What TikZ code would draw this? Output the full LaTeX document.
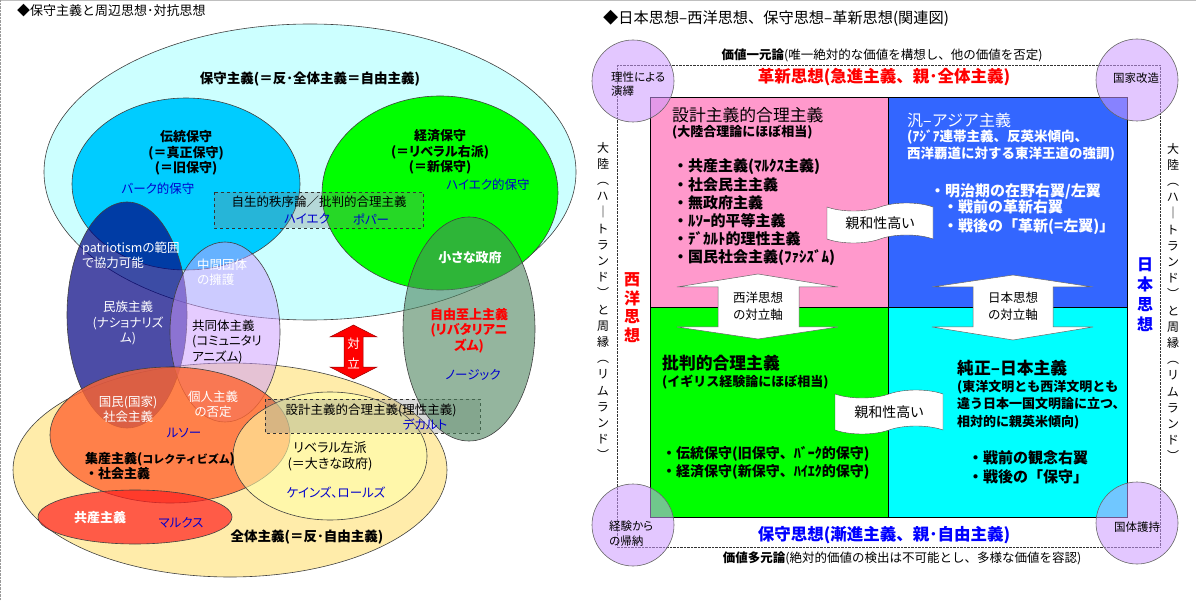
\documentclass[tikz,border=0pt]{standalone}
\usepackage{fontspec}
\setmainfont{Noto Sans CJK JP}[RawFeature=+palt]
\newfontfamily\fixe{Noto Sans CJK JP}
\usetikzlibrary{shapes.symbols}

\definecolor{cyanpale}{RGB}{204,255,255}
\definecolor{bleuciel}{RGB}{0,204,255}
\definecolor{vertvif}{RGB}{0,255,0}
\definecolor{jaunepale}{RGB}{255,236,170}
\definecolor{marine}{RGB}{0,0,128}
\definecolor{lavande}{RGB}{204,153,255}
\definecolor{orangevif}{RGB}{255,102,51}
\definecolor{rougevif}{RGB}{255,30,30}
\definecolor{jaunelib}{RGB}{255,255,170}
\definecolor{vertgris}{RGB}{77,132,94}
\definecolor{rose}{RGB}{255,153,204}
\definecolor{bleuroi}{RGB}{51,102,255}
\definecolor{cyanvif}{RGB}{0,255,255}
\definecolor{bleutexte}{RGB}{0,0,204}

\newcommand{\taille}[2]{\fontsize{#1}{#2}\selectfont}

\begin{document}
\begin{tikzpicture}[x=1pt, y=-1pt,
    contour/.style={draw=black!75, line width=0.6pt},
    etiq/.style={inner sep=0pt, align=center, font=\taille{12.5}{15.5}},
    etiqg/.style={inner sep=0pt, align=center, font=\taille{13}{15.5}\bfseries},
    nom/.style={etiq, text=bleutexte},
    encadre/.style={draw=black!80, dashed, fill=gray, fill opacity=0.3, line width=0.5pt},
    quadrant/.style={draw=black, line width=0.8pt},
    rond/.style={draw=black!60, fill=lavande, fill opacity=0.55, line width=0.6pt},
    fleche/.style={draw=black!60, fill=white, line width=0.5pt},
    bandeau/.style={tape, tape bend top=in and out, tape bend bottom=in and out, tape bend height=8pt, draw=black!70, fill=white, inner sep=0pt, font=\taille{14}{16}}]
        \useasboundingbox (0,0) rectangle (1196,601);

        % Cadre de l'image
        \draw[black!25] (0,0.5) -- (1196,0.5);
        \draw[black!40, densely dotted] (0.5,0) -- (0.5,601);

        % ===== Panneau gauche =====
        \node[anchor=west, inner sep=0pt, font=\fixe\taille{13}{15}] (titreG) at (17,11) {◆保守主義と周辺思想･対抗思想};

        % Ellipses de base
        \draw[contour, fill=cyanpale] (310,172) ellipse [x radius=266pt, y radius=148pt];
        \draw[contour, fill=bleuciel] (186,184) ellipse [x radius=114pt, y radius=86pt];
        \draw[contour, fill=vertvif] (440,193) ellipse [x radius=118pt, y radius=97pt];
        \draw[contour, fill=jaunepale] (230,470) ellipse [x radius=217pt, y radius=107pt];

        % Encadre ordre spontane
        \draw[encadre] (214,192) rectangle (423,228);

        % Ellipses transparentes
        \draw[contour, fill=marine, fill opacity=0.7] (127,315) ellipse [x radius=60pt, y radius=113pt];
        \draw[contour, fill=lavande, fill opacity=0.5] (225,332) ellipse [x radius=55pt, y radius=90pt];
        \draw[contour, fill=orangevif, fill opacity=0.8] (170,435) ellipse [x radius=120pt, y radius=68pt];
        \draw[contour, fill=rougevif, fill opacity=0.7] (135,517) ellipse [x radius=97pt, y radius=27pt];
        \draw[contour, fill=jaunelib, fill opacity=0.6] (330,456) ellipse [x radius=97pt, y radius=64pt];

        % Encadre constructivisme
        \draw[encadre] (265,399) rectangle (480,433);

        % Ellipse libertarienne
        \draw[contour, fill=vertgris, fill opacity=0.6] (469,329) ellipse [x radius=66pt, y radius=112pt];

        % Fleche d'opposition
        \draw[draw=red!60!black, fill=red, line width=0.5pt] (353.5,325) -- (377,337) -- (363,337) -- (363,367) -- (377,367) -- (353.5,379) -- (330,367) -- (344,367) -- (344,337) -- (330,337) -- cycle;
        \node[etiq, text=white, font=\taille{12.5}{20}] (taiitsu) at (353.5,353) {対\\立};

        % Textes du panneau gauche
        \node[etiqg, font=\taille{13.5}{16}\bfseries] (hoshu) at (310,79) {保守主義(＝反･全体主義＝自由主義)};
        \node[etiqg] (dentou) at (186,153) {伝統保守\\(＝真正保守)\\(＝旧保守)};
        \node[nom] (burke) at (158,189) {バーク的保守};
        \node[etiqg] (keizai) at (440,152) {経済保守\\(＝リベラル右派)\\(＝新保守)};
        \node[nom] (hayekH) at (488,185) {ハイエク的保守};
        \node[etiq] (jisei) at (319,202) {自生的秩序論／批判的合理主義};
        \node[nom] (hayek) at (307,219) {ハイエク};
        \node[nom] (popper) at (371,219) {ポパー};
        \node[etiq, text=white, align=left, anchor=west, font=\taille{12.5}{15}] (patrio) at (82,255.5) {patriotismの範囲\\で協力可能};
        \node[etiq, text=white] (minzoku) at (128,323) {民族主義\\(ナショナリズ\\ム)};
        \node[etiq, text=white, align=left, anchor=west] (chukan) at (197,272.5) {中間団体\\の擁護};
        \node[etiq, align=left, anchor=west] (kyodo) at (192,341.5) {共同体主義\\(コミュニタリ\\アニズム)};
        \node[etiq, text=white] (kokumin) at (128,409.5) {国民(国家)\\社会主義};
        \node[etiq, text=white] (kojin) at (213,404.5) {個人主義\\の否定};
        \node[nom] (rousseau) at (184,433) {ルソー};
        \node[etiqg, align=left, anchor=west, font=\fixe\taille{13}{15.5}\bfseries] (shusan) at (85,466) {集産主義({\taille{11}{12}コレクティビズム})\\・社会主義};
        \node[etiq, text=white, font=\taille{13}{15}\bfseries] (kyosan) at (100,518) {共産主義};
        \node[nom] (marx) at (181,523) {マルクス};
        \node[etiq, font=\taille{13}{16.5}] (sayoku) at (330,456.5) {リベラル左派\\(＝大きな政府)};
        \node[nom] (keynes) at (336,493) {ケインズ、ロールズ};
        \node[etiqg, font=\taille{13.5}{16}\bfseries] (zentai) at (307,537) {全体主義(＝反･自由主義)};
        \node[etiq] (sekkei) at (371,410) {設計主義的合理主義(理性主義)};
        \node[nom] (descartes) at (425,425) {デカルト};
        \node[etiqg, text=white] (chiisana) at (470,258) {小さな政府};
        \node[etiqg, text=red] (libert) at (469,330.5) {自由至上主義\\(リバタリアニ\\ズム)};
        \node[nom] (nozick) at (473,375) {ノージック};

        % ===== Panneau droit =====
        \node[anchor=west, inner sep=0pt, font=\fixe\taille{15.2}{18}] (titreD) at (603,18) {◆日本思想–西洋思想、保守思想–革新思想(関連図)};

        % Cadre pointille
        \draw[black!80, densely dotted] (617,65) rectangle (1160,547);

        % Quadrants
        \draw[quadrant, fill=rose] (650,97) rectangle (888,307);
        \draw[quadrant, fill=bleuroi] (888,97) rectangle (1127,307);
        \draw[quadrant, fill=vertvif] (650,307) rectangle (888,517);
        \draw[quadrant, fill=cyanvif] (888,307) rectangle (1127,517);

        % Fleches des axes d'opposition
        \draw[fleche] (758,274) -- (838,287) -- (799,287) -- (799,327) -- (838,327) -- (758,339) -- (677,327) -- (718,327) -- (718,287) -- (677,287) -- cycle;
        \node[etiq, font=\taille{12.5}{17}] (axeO) at (758,306.5) {西洋思想\\の対立軸};
        \draw[fleche] (1013,275) -- (1093,287) -- (1053,287) -- (1053,327) -- (1093,327) -- (1013,340) -- (932,327) -- (973,327) -- (973,287) -- (932,287) -- cycle;
        \node[etiq, font=\taille{12.5}{17}] (axeJ) at (1013,306.5) {日本思想\\の対立軸};

        % Bandeaux d'affinite
        \node[bandeau, minimum width=106pt, minimum height=40pt] (affiniteH) at (880,223) {親和性高い};
        \node[bandeau, minimum width=108pt, minimum height=44pt] (affiniteB) at (889,412) {親和性高い};

        % Cercles des coins
        \draw[rond] (633,81) circle [radius=41pt];
        \draw[rond] (1137,80) circle [radius=41pt];
        \draw[rond] (633,525) circle [radius=41pt];
        \draw[rond] (1137,523) circle [radius=41pt];
        \node[etiq, align=left, anchor=west, font=\taille{11.5}{14}] (enneki) at (611,84) {理性による\\演繹};
        \node[etiq, font=\taille{11.5}{14}] (kaizo) at (1136,78) {国家改造};
        \node[etiq, align=left, anchor=west, font=\taille{11.5}{15}] (kino) at (609,534) {経験から\\の帰納};
        \node[etiq, font=\taille{11.5}{14}] (goji) at (1137,527) {国体護持};

        % Titres haut et bas
        \node[etiq, font=\fixe\taille{12.5}{14}] (ichigen) at (882,55) {\textbf{価値一元論}(唯一絶対的な価値を構想し、他の価値を否定)};
        \node[etiq, text=red, font=\fixe\taille{16.5}{18}\bfseries] (kakushin) at (884,77) {革新思想(急進主義、親･全体主義)};
        \node[etiq, text=blue, font=\fixe\taille{16.5}{18}\bfseries] (hoshuD) at (884,535) {保守思想(漸進主義、親･自由主義)};
        \node[etiq, font=\fixe\taille{12.5}{14}] (tagen) at (902,558) {\textbf{価値多元論}(絶対的価値の検出は不可能とし、多様な価値を容認)};

        % Textes verticaux
        \node[etiq, font=\taille{12}{16.2}] (rimG) at (603,301) {大\\陸\\︵\\ハ\\｜\\ト\\ラ\\ン\\ド\\︶\\と\\周\\縁\\︵\\リ\\ム\\ラ\\ン\\ド\\︶};
        \node[etiq, font=\taille{12}{16.2}] (rimD) at (1173,302) {大\\陸\\︵\\ハ\\｜\\ト\\ラ\\ン\\ド\\︶\\と\\周\\縁\\︵\\リ\\ム\\ラ\\ン\\ド\\︶};
        \node[etiq, text=red, font=\taille{16}{18.5}\bfseries] (seiyo) at (632,307.5) {西\\洋\\思\\想};
        \node[etiq, text=blue, font=\taille{16}{20}\bfseries] (nihon) at (1145,295) {日\\本\\思\\想};

        % Quadrant rose
        \node[etiq, anchor=west, font=\fixe\taille{16.8}{19}] (sekkeiD) at (672,115) {設計主義的合理主義};
        \node[etiq, anchor=west, font=\fixe\taille{13}{14}\bfseries] (tairiku) at (672,132) {(大陸合理論にほぼ相当)};
        \node[etiq, align=left, anchor=west, font=\fixe\taille{15}{18.2}\bfseries] (listeR) at (673,212.5) {・共産主義(ﾏﾙｸｽ主義)\\・社会民主主義\\・無政府主義\\・ﾙｿｰ的平等主義\\・ﾃﾞｶﾙﾄ的理性主義\\・国民社会主義(ﾌｧｼｽﾞﾑ)};

        % Quadrant bleu
        \node[etiq, anchor=west, text=white, font=\fixe\taille{16}{19}] (panasia) at (907,120) {汎–アジア主義};
        \node[etiq, align=left, anchor=west, text=white, font=\fixe\taille{13.5}{17}\bfseries] (rentai) at (907,145.5) {(ｱｼﾞｱ連帯主義、反英米傾向、\\西洋覇道に対する東洋王道の強調)};
        \node[etiq, anchor=west, text=white, font=\fixe\taille{15}{18}\bfseries] (meiji) at (930,191) {・明治期の在野右翼/左翼};
        \node[etiq, align=left, anchor=west, text=white, font=\fixe\taille{15}{19}\bfseries] (senzenK) at (943,217.5) {・戦前の革新右翼\\・戦後の「革新(=左翼)」};

        % Quadrant vert
        \node[etiq, anchor=west, font=\fixe\taille{16.8}{19}\bfseries] (hihan) at (662,363) {批判的合理主義};
        \node[etiq, anchor=west, font=\fixe\taille{13}{14}\bfseries] (igirisu) at (662,382) {(イギリス経験論にほぼ相当)};
        \node[etiq, align=left, anchor=west, font=\fixe\taille{14}{18}\bfseries] (listeV) at (662,463) {・伝統保守(旧保守、ﾊﾞｰｸ的保守)\\・経済保守(新保守、ﾊｲｴｸ的保守)};

        % Quadrant cyan
        \node[etiq, anchor=west, font=\fixe\taille{16.8}{19}\bfseries] (junsei) at (957,368) {純正–日本主義};
        \node[etiq, align=left, anchor=west, font=\fixe\taille{13}{17.5}\bfseries] (toyo) at (957,404.5) {(東洋文明とも西洋文明とも\\違う日本一国文明論に立つ、\\相対的に親英米傾向)};
        \node[etiq, align=left, anchor=west, font=\fixe\taille{15}{19}\bfseries] (kannen) at (968,467.5) {・戦前の観念右翼\\・戦後の「保守」};

    \end{tikzpicture}
\end{document}
